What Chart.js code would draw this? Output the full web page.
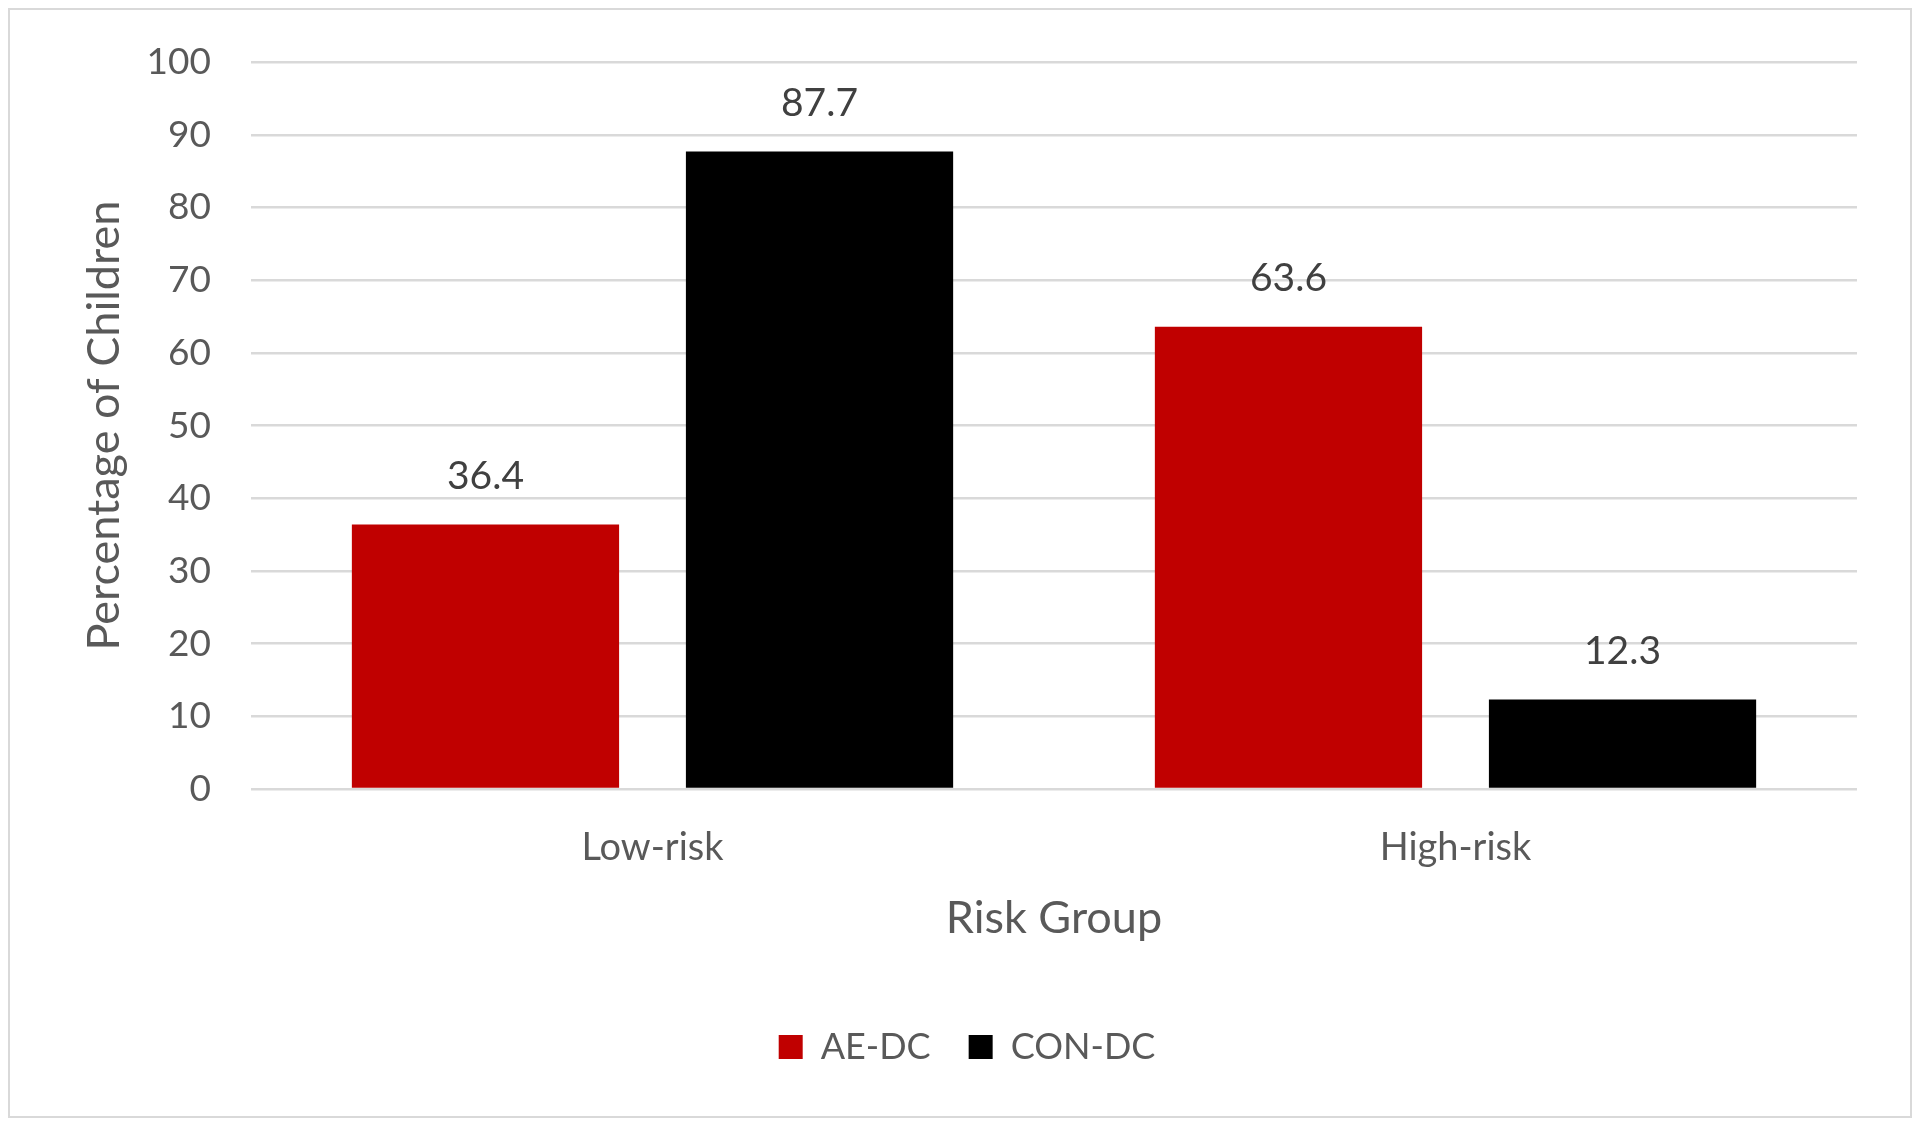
<!DOCTYPE html>
<html>
<head>
<meta charset="utf-8">
<script src="https://cdn.jsdelivr.net/npm/chart.js@4"></script>
<style>
  html, body { margin: 0; padding: 0; background: #fff; }
  #wrap { width: 1920px; height: 1126px; position: relative; }
</style>
</head>
<body>
<div id="wrap"><canvas id="riskChart"></canvas></div>
<script>
const categories = ["Low-risk", "High-risk"];
const aeDc = [36.4, 63.6];
const conDc = [87.7, 12.3];
const yTicks = [0, 10, 20, 30, 40, 50, 60, 70, 80, 90, 100];

const FONT = "Lato, 'Open Sans', sans-serif";

// frame round the whole chart
const framePlugin = {
  id: "frame",
  beforeDraw(chart) {
    const ctx = chart.ctx;
    ctx.save();
    ctx.fillStyle = "#fff";
    ctx.fillRect(0, 0, chart.width, chart.height);
    ctx.strokeStyle = "#d9d9d9";
    ctx.lineWidth = 2;
    ctx.strokeRect(9, 9, chart.width - 18, chart.height - 18);
    ctx.restore();
  },
};

// value labels above bars
const valueLabels = {
  id: "valueLabels",
  afterDatasetsDraw(chart) {
    const ctx = chart.ctx;
    ctx.save();
    ctx.font = "39px " + FONT;
    ctx.fillStyle = "#404040";
    ctx.textAlign = "center";
    ctx.textBaseline = "middle";
    chart.data.datasets.forEach((ds, i) => {
      chart.getDatasetMeta(i).data.forEach((bar, j) => {
        ctx.fillText(ds.data[j].toFixed(1), bar.x, bar.y - 48);
      });
    });
    ctx.restore();
  },
};

new Chart(document.getElementById("riskChart"), {
  type: "bar",
  data: {
    labels: categories,
    datasets: [
      { label: "AE-DC", data: aeDc, backgroundColor: "#c00000" },
      { label: "CON-DC", data: conDc, backgroundColor: "#000000" },
    ],
  },
  options: {
    responsive: true,
    maintainAspectRatio: false,
    animation: false,
    categoryPercentage: 0.832,
    barPercentage: 0.8,
    layout: { padding: { left: 77, right: 63, top: 60, bottom: 51 } },
    plugins: {
      tooltip: { enabled: false },
      legend: {
        position: "bottom",
        labels: {
          boxWidth: 24,
          boxHeight: 24,
          padding: 38,
          color: "#595959",
          font: { family: FONT, size: 36 },
        },
      },
    },
    scales: {
      x: {
        grid: { display: false },
        border: { display: false },
        ticks: { color: "#595959", padding: 28, font: { family: FONT, size: 38 } },
        title: {
          display: true,
          text: "Risk Group",
          color: "#595959",
          padding: { top: 0, bottom: 46 },
          font: { family: FONT, size: 45 },
        },
        afterFit: (s) => { s.height = 202; },
      },
      y: {
        min: 0,
        max: 100,
        afterBuildTicks: (s) => { s.ticks = yTicks.map((v) => ({ value: v })); },
        grid: { color: "#d9d9d9", lineWidth: 2.5, drawTicks: false },
        border: { display: false },
        ticks: { color: "#595959", padding: 40, font: { family: FONT, size: 37 } },
        title: {
          display: true,
          text: "Percentage of Children",
          color: "#595959",
          padding: { top: 0, bottom: 0 },
          font: { family: FONT, size: 45 },
        },
        afterFit: (s) => { s.width = 174; },
      },
    },
  },
  plugins: [framePlugin, valueLabels],
});
</script>
</body>
</html>
